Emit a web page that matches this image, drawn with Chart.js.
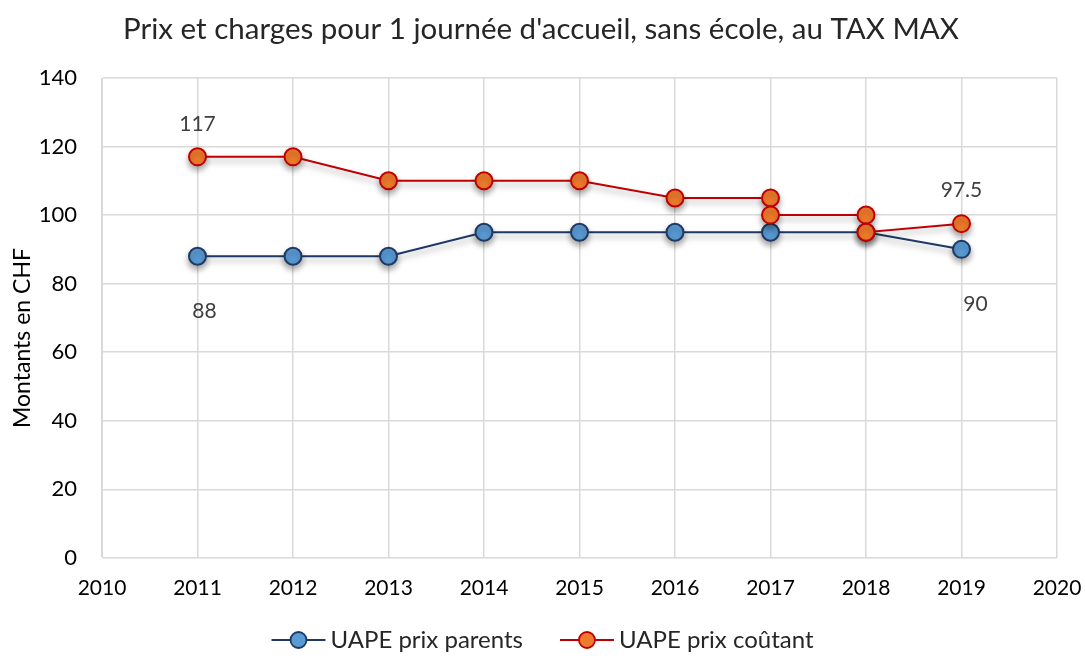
<!DOCTYPE html>
<html>
<head>
<meta charset="utf-8">
<script src="https://cdn.jsdelivr.net/npm/chart.js@4.4.0/dist/chart.umd.min.js"></script>
<style>
  html, body { margin: 0; padding: 0; background: #fff; }
  #wrap { width: 1085px; height: 656px; }
</style>
</head>
<body>
<div id="wrap"><canvas id="chart"></canvas></div>
<script>
const FONT = "Lato, 'Open Sans', sans-serif";

// data
const parentYears = [2011, 2012, 2013, 2014, 2015, 2016, 2017, 2018, 2019];
const parentValues = [88, 88, 88, 95, 95, 95, 95, 95, 90];
const parentLabels = ['88', null, null, null, null, null, null, null, '90'];

const costYears = [2011, 2012, 2013, 2014, 2015, 2016, 2017, 2017, 2018, 2018, 2019];
const costValues = [117, 117, 110, 110, 110, 105, 105, 100, 100, 95, 97.5];
const costLabels = ['117', null, null, null, null, null, null, null, null, null, '97.5'];

const TITLE = "Prix et charges pour 1 journée d'accueil, sans école, au TAX MAX";
const Y_TITLE = 'Montants en CHF';

const BLUE_LINE = '#1f3864';
const BLUE_FILL = '#5b9bd5';
const RED_LINE = '#c00000';
const RED_FILL = '#f07b2c';

function toPoints(xs, ys) {
    return xs.map((x, i) => ({ x: x, y: ys[i] }));
}

const shadowPlugin = {
    id: 'shadow',
    beforeDatasetsDraw(chart) {
        const ctx = chart.ctx;
        ctx.save();
        ctx.shadowColor = 'rgba(0,0,0,0.35)';
        ctx.shadowBlur = 6;
        ctx.shadowOffsetY = 4;
    },
    afterDatasetsDraw(chart) {
        chart.ctx.restore();
    }
};

// offsets for the value labels (px)
const labelOffsets = { 0: { dx: 0, dy: -33 }, 1: { dx: 7, dy: 55 } };

const valueLabels = {
    id: 'valueLabels',
    afterDatasetsDraw(chart) {
        const ctx = chart.ctx;
        ctx.save();
        ctx.font = '21px ' + FONT;
        ctx.fillStyle = '#404040';
        ctx.textAlign = 'center';
        ctx.textBaseline = 'middle';
        chart.data.datasets.forEach((ds, di) => {
            const meta = chart.getDatasetMeta(di);
            const off = labelOffsets[di];
            ds.valueLabels.forEach((txt, i) => {
                if (!txt) return;
                const el = meta.data[i];
                const dx = (di === 1 && i === ds.valueLabels.length - 1) ? off.dx + 7 : off.dx;
                ctx.fillText(txt, el.x + dx, el.y + off.dy);
            });
        });
        ctx.restore();
    }
};

// chart title and y axis title, placed as in the original
const titles = {
    id: 'titles',
    afterDraw(chart) {
        const ctx = chart.ctx;
        ctx.save();
        ctx.fillStyle = '#262626';
        ctx.textAlign = 'center';
        ctx.textBaseline = 'middle';
        ctx.font = '29.5px ' + FONT;
        ctx.fillText(TITLE, 541, 29);
        ctx.fillStyle = '#000';
        ctx.font = '23px ' + FONT;
        ctx.translate(23, 338);
        ctx.rotate(-Math.PI / 2);
        ctx.fillText(Y_TITLE, 0, 0);
        ctx.restore();
    }
};

// legend drawn by hand: line + circle symbol, then the text
const lineLegend = {
    id: 'lineLegend',
    afterDraw(chart) {
        const ctx = chart.ctx;
        const y = 640, symW = 54, gap = 5, itemGap = 37;
        ctx.save();
        ctx.font = '24px ' + FONT;
        ctx.textBaseline = 'middle';
        const items = chart.data.datasets.slice().reverse();
        const widths = items.map(ds => symW + gap + ctx.measureText(ds.label).width);
        const total = widths.reduce((a, b) => a + b, 0) + itemGap * (items.length - 1);
        let x = chart.width / 2 - total / 2;
        items.forEach((ds, i) => {
            ctx.strokeStyle = ds.borderColor;
            ctx.lineWidth = 2;
            ctx.beginPath(); ctx.moveTo(x, y); ctx.lineTo(x + symW, y); ctx.stroke();
            ctx.beginPath(); ctx.arc(x + symW / 2, y, 8, 0, Math.PI * 2);
            ctx.fillStyle = ds.backgroundColor; ctx.fill();
            ctx.lineWidth = 1.8; ctx.stroke();
            ctx.fillStyle = '#262626';
            ctx.fillText(ds.label, x + symW + gap, y);
            x += widths[i] + itemGap;
        });
        ctx.restore();
    }
};

new Chart(document.getElementById('chart'), {
    type: 'line',
    data: {
        datasets: [
            {
                label: 'UAPE prix coûtant',
                data: toPoints(costYears, costValues),
                valueLabels: costLabels,
                borderColor: RED_LINE,
                backgroundColor: RED_FILL,
                borderWidth: 2,
                pointRadius: 8.5,
                pointBorderWidth: 2,
                pointBorderColor: RED_LINE,
                pointBackgroundColor: RED_FILL
            },
            {
                label: 'UAPE prix parents',
                data: toPoints(parentYears, parentValues),
                valueLabels: parentLabels,
                borderColor: BLUE_LINE,
                backgroundColor: BLUE_FILL,
                borderWidth: 2,
                pointRadius: 8.5,
                pointBorderWidth: 2,
                pointBorderColor: BLUE_LINE,
                pointBackgroundColor: BLUE_FILL
            }
        ]
    },
    options: {
        responsive: true,
        maintainAspectRatio: false,
        animation: false,
        layout: { padding: { left: 8, right: 28, top: 78, bottom: 35 } },
        plugins: {
            title: { display: false },
            legend: { display: false },
            tooltip: { enabled: false }
        },
        scales: {
            x: {
                type: 'linear',
                min: 2010,
                max: 2020,
                ticks: {
                    stepSize: 1,
                    color: '#000',
                    font: { family: FONT, size: 21 },
                    callback: v => String(v),
                    padding: 18
                },
                afterFit(scale) {
                    scale.height += 2;
                    scale.paddingLeft = 0;
                    scale.paddingRight = 0;
                },
                grid: { color: '#d9d9d9', lineWidth: 1.5, drawTicks: false },
                border: { color: '#d9d9d9' }
            },
            y: {
                min: 0,
                max: 140,
                ticks: {
                    stepSize: 20,
                    color: '#000',
                    font: { family: FONT, size: 22 },
                    padding: 25
                },
                afterFit(scale) {
                    scale.width = 94;
                    scale.paddingTop = 0;
                    scale.paddingBottom = 0;
                },
                grid: { color: '#d9d9d9', lineWidth: 1.5, drawTicks: false },
                border: { color: '#d9d9d9' }
            }
        }
    },
    plugins: [shadowPlugin, valueLabels, titles, lineLegend]
});
</script>
</body>
</html>
